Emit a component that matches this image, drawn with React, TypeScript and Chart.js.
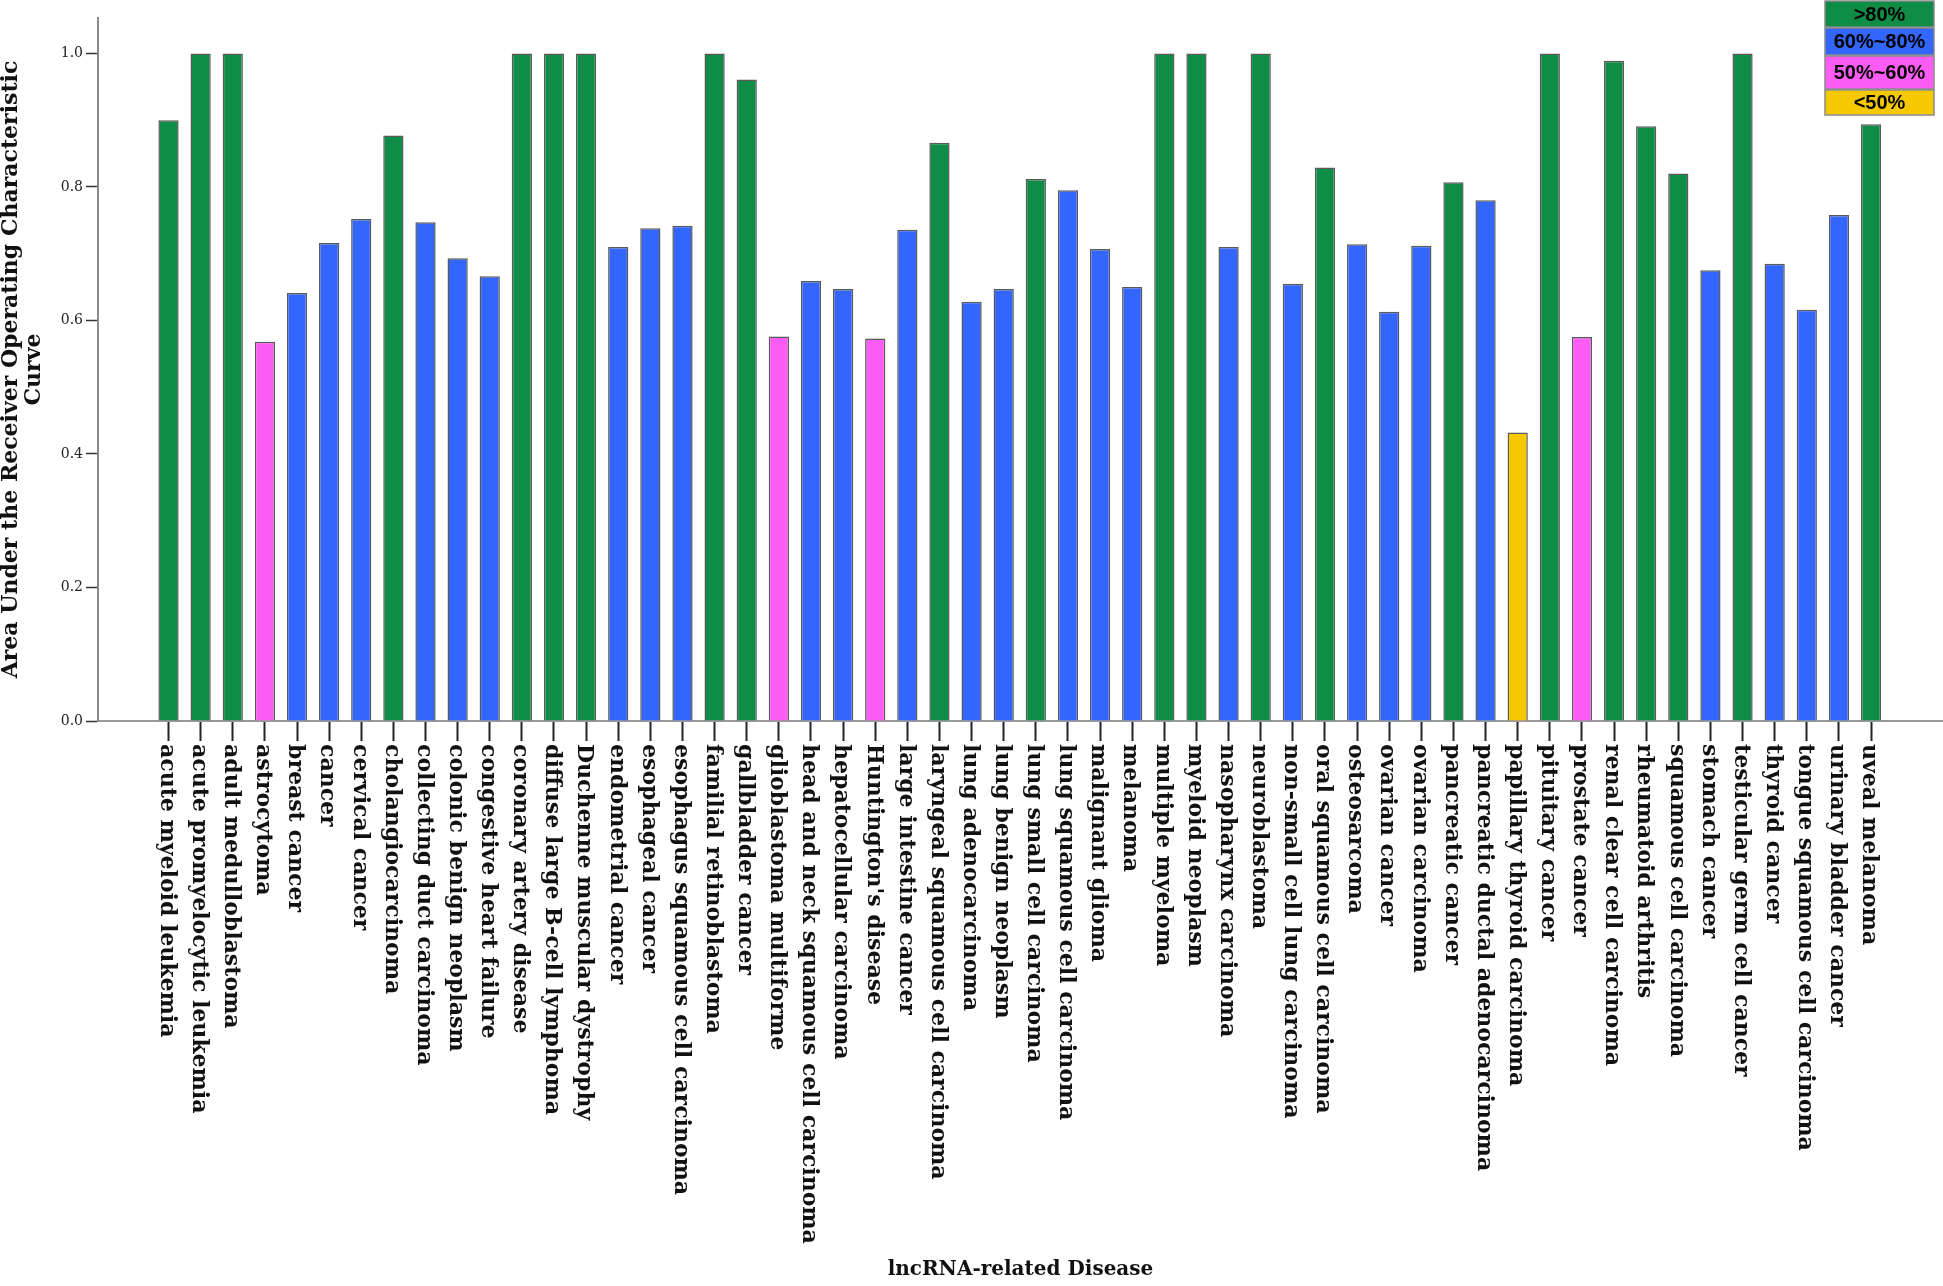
import React, { useEffect, useRef } from "react";
import { Chart, registerables } from "chart.js";

Chart.register(...registerables);

const categories: string[] = [
  "acute myeloid leukemia",
  "acute promyelocytic leukemia",
  "adult medulloblastoma",
  "astrocytoma",
  "breast cancer",
  "cancer",
  "cervical cancer",
  "cholangiocarcinoma",
  "collecting duct carcinoma",
  "colonic benign neoplasm",
  "congestive heart failure",
  "coronary artery disease",
  "diffuse large B-cell lymphoma",
  "Duchenne muscular dystrophy",
  "endometrial cancer",
  "esophageal cancer",
  "esophagus squamous cell carcinoma",
  "familial retinoblastoma",
  "gallbladder cancer",
  "glioblastoma multiforme",
  "head and neck squamous cell carcinoma",
  "hepatocellular carcinoma",
  "Huntington's disease",
  "large intestine cancer",
  "laryngeal squamous cell carcinoma",
  "lung adenocarcinoma",
  "lung benign neoplasm",
  "lung small cell carcinoma",
  "lung squamous cell carcinoma",
  "malignant glioma",
  "melanoma",
  "multiple myeloma",
  "myeloid neoplasm",
  "nasopharynx carcinoma",
  "neuroblastoma",
  "non-small cell lung carcinoma",
  "oral squamous cell carcinoma",
  "osteosarcoma",
  "ovarian cancer",
  "ovarian carcinoma",
  "pancreatic cancer",
  "pancreatic ductal adenocarcinoma",
  "papillary thyroid carcinoma",
  "pituitary cancer",
  "prostate cancer",
  "renal clear cell carcinoma",
  "rheumatoid arthritis",
  "squamous cell carcinoma",
  "stomach cancer",
  "testicular germ cell cancer",
  "thyroid cancer",
  "tongue squamous cell carcinoma",
  "urinary bladder cancer",
  "uveal melanoma",
];

const aucValues: number[] = [
  0.9, 1.0, 1.0, 0.568, 0.641, 0.716, 0.752, 0.877, 0.747, 0.693, 0.666,
  1.0, 1.0, 1.0, 0.71, 0.738, 0.742, 1.0, 0.961, 0.576, 0.659, 0.647,
  0.573, 0.736, 0.866, 0.628, 0.647, 0.812, 0.795, 0.707, 0.65, 1.0, 1.0,
  0.71, 1.0, 0.655, 0.829, 0.714, 0.613, 0.712, 0.807, 0.78, 0.432, 1.0,
  0.575, 0.989, 0.891, 0.82, 0.675, 1.0, 0.685, 0.616, 0.758, 0.894,
];

const yTickValues: number[] = [0, 0.2, 0.4, 0.6, 0.8, 1.0];

const legendLabels: string[] = [">80%", "60%~80%", "50%~60%", "<50%"];
const legendColors: string[] = ["#0F8C46", "#3366FF", "#FF5CF5", "#F5C800"];
const legendThresholds: number[] = [0.8, 0.6, 0.5, -Infinity];

const yTitle: string[] = [
  "Area Under the Receiver Operating Characteristic",
  "Curve",
];
const xTitle = "lncRNA-related Disease";

function colorFor(v: number): string {
  for (let k = 0; k < legendThresholds.length; k++) {
    if (v > legendThresholds[k]) return legendColors[k];
  }
  return legendColors[legendColors.length - 1];
}

const xLabelPlugin = {
  id: "xLabelPlugin",
  afterDraw(chart: any) {
    const ctx = chart.ctx;
    const xs = chart.scales.x;
    const bottom = chart.chartArea.bottom;
    ctx.save();
    ctx.font = 'bold 22px "DejaVu Serif"';
    ctx.fillStyle = "#111";
    ctx.textAlign = "left";
    ctx.textBaseline = "middle";
    categories.forEach((label, i) => {
      const px = xs.getPixelForValue(i);
      ctx.save();
      ctx.translate(px - 2, bottom + 23);
      ctx.rotate(Math.PI / 2);
      ctx.fillText(label, 0, 0);
      ctx.restore();
    });
    ctx.restore();
  },
};

const legendPlugin = {
  id: "boxLegend",
  afterDraw(chart: any) {
    const ctx = chart.ctx;
    const left = 1825;
    const right = 1934;
    const rows = [
      [1, 27],
      [28, 55],
      [56, 89],
      [90, 115],
    ];
    ctx.save();
    ctx.font = 'bold 20px "Liberation Sans"';
    ctx.textAlign = "center";
    ctx.textBaseline = "middle";
    legendLabels.forEach((lab, i) => {
      const [t, b] = rows[i];
      ctx.fillStyle = legendColors[i];
      ctx.fillRect(left, t, right - left, b - t);
      ctx.strokeStyle = "#8a8a8a";
      ctx.lineWidth = 1.5;
      ctx.strokeRect(left, t, right - left, b - t);
      ctx.fillStyle = "#000";
      ctx.fillText(lab, (left + right) / 2, (t + b) / 2 + 1);
    });
    ctx.restore();
  },
};

export default function App() {
  const ref = useRef<HTMLCanvasElement | null>(null);

  useEffect(() => {
    if (!ref.current) return;
    const chart = new Chart(ref.current, {
      type: "bar",
      data: {
        datasets: [
          {
            label: "AUC",
            data: aucValues.map((v, i) => ({ x: i, y: v })),
            backgroundColor: aucValues.map(colorFor),
            borderColor: "#5a5a5a",
            borderWidth: 1.5,
            barPercentage: 0.63,
            categoryPercentage: 1,
          } as any,
        ],
      },
      options: {
        responsive: false,
        animation: false,
        devicePixelRatio: 1,
        layout: { padding: { top: 18, left: 0, right: 0, bottom: 0 } },
        plugins: {
          legend: { display: false },
          tooltip: { enabled: false },
        },
        scales: {
          x: {
            type: "linear",
            offset: false,
            min: -2.195,
            max: 55.24,
            afterBuildTicks: (s: any) => {
              s.ticks = categories.map((_, i) => ({ value: i }));
            },
            afterFit: (s: any) => {
              s.height = 565;
            },
            ticks: { display: false },
            grid: {
              offset: false,
              drawOnChartArea: false,
              drawTicks: true,
              tickLength: 20,
              tickColor: "#222",
              tickWidth: 2,
            },
            border: { display: true, color: "#9a9a9a", width: 2 },
            title: {
              display: true,
              text: xTitle,
              color: "#111",
              font: { family: "DejaVu Serif", size: 20, weight: "bold" },
              padding: { top: 0, bottom: 4 },
            },
          },
          y: {
            type: "linear",
            min: 0,
            max: 1.053,
            afterBuildTicks: (s: any) => {
              s.ticks = yTickValues.map((v) => ({ value: v }));
            },
            afterFit: (s: any) => {
              s.width = 98;
            },
            ticks: {
              callback: (v: any) => Number(v).toFixed(1),
              color: "#222",
              font: { family: "DejaVu Serif", size: 14 },
              padding: 3,
            },
            grid: {
              drawOnChartArea: false,
              drawTicks: true,
              tickLength: 12,
              tickColor: "#333",
              tickWidth: 1.5,
            },
            border: { display: true, color: "#8a8a8a", width: 2 },
            title: {
              display: true,
              text: yTitle,
              color: "#111",
              font: { family: "DejaVu Serif", size: 22, weight: "bold", lineHeight: 1.05 },
              padding: { top: 0, bottom: 0 },
            },
          },
        },
      } as any,
      plugins: [xLabelPlugin, legendPlugin],
    });
    return () => chart.destroy();
  }, []);

  return (
    <div style={{ position: "absolute", left: 0, top: 0, width: 1943, height: 1286, background: "#fff" }}>
      <canvas ref={ref} width={1943} height={1286} style={{ display: "block", width: 1943, height: 1286 }} />
    </div>
  );
}
